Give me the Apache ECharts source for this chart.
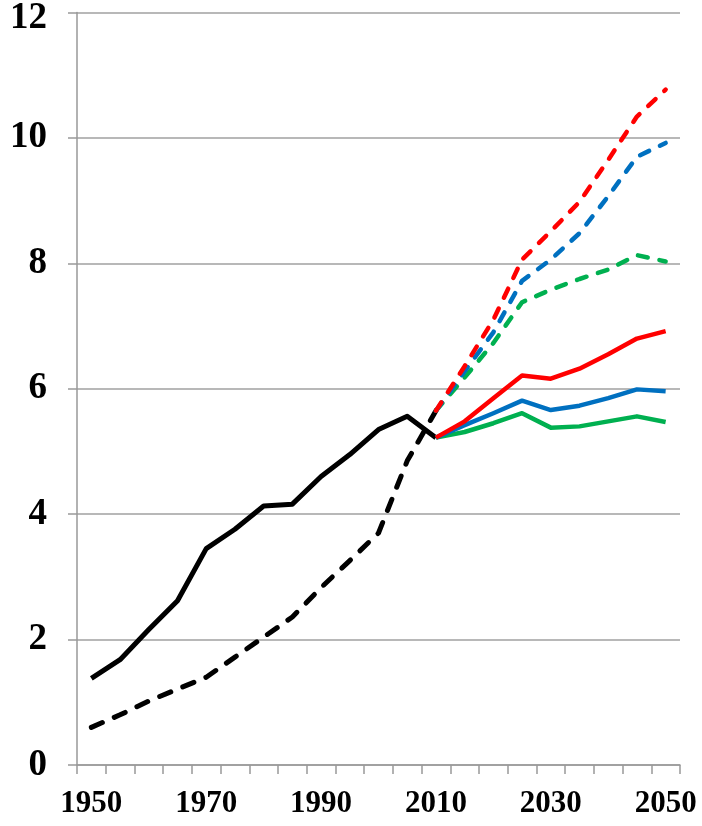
<!DOCTYPE html>
<html>
<head>
<meta charset="utf-8">
<script src="https://cdn.jsdelivr.net/npm/echarts@6/dist/echarts.min.js"></script>
<style>
html,body{margin:0;padding:0;background:#fff;}
#c{width:702px;height:826px;}
</style>
</head>
<body>
<div id="c"></div>
<script>
var years = ['1950','1955','1960','1965','1970','1975','1980','1985','1990','1995','2000','2005','2010','2015','2020','2025','2030','2035','2040','2045','2050'];
var yTicks = [0, 2, 4, 6, 8, 10, 12];

var histSolid  = [1.38, 1.68, 2.16, 2.62, 3.45, 3.76, 4.13, 4.16, 4.60, 4.95, 5.35, 5.56, 5.22];
var histDashed = [0.60, 0.80, 1.02, 1.21, 1.40, 1.72, 2.04, 2.36, 2.83, 3.26, 3.70, 4.85, 5.65];

var redSolid    = [5.22, 5.48, 5.85, 6.21, 6.16, 6.32, 6.55, 6.80, 6.92];
var blueSolid   = [5.22, 5.42, 5.61, 5.81, 5.66, 5.73, 5.85, 5.99, 5.96];
var greenSolid  = [5.22, 5.31, 5.45, 5.61, 5.38, 5.40, 5.48, 5.56, 5.47];
var redDashed   = [5.65, 6.36, 7.10, 8.06, 8.51, 8.98, 9.65, 10.34, 10.77];
var blueDashed  = [5.65, 6.28, 6.90, 7.72, 8.06, 8.48, 9.07, 9.70, 9.92];
var greenDashed = [5.65, 6.18, 6.73, 7.38, 7.58, 7.75, 7.90, 8.13, 8.03];

function pad(arr, startIdx) {
  var out = [];
  for (var i = 0; i < years.length; i++) {
    var j = i - startIdx;
    out.push(j >= 0 && j < arr.length ? arr[j] : null);
  }
  return out;
}

function line(data, color, dashed, width, dash) {
  return {
    type: 'line',
    data: data,
    showSymbol: false,
    symbol: 'none',
    connectNulls: false,
    lineStyle: {
      color: color,
      width: width,
      type: dashed ? dash : 'solid',
      cap: dashed ? 'round' : 'butt',
      join: 'round'
    }
  };
}

var font = '"Liberation Serif", "Times New Roman", serif';
var chart = echarts.init(document.getElementById('c'));
chart.setOption({
  animation: false,
  grid: { left: 77, right: 22, top: 12, bottom: 61, containLabel: false },
  xAxis: {
    type: 'category',
    data: years,
    boundaryGap: true,
    axisLine: { lineStyle: { color: '#999999', width: 1.5 } },
    axisTick: { show: true, interval: 0, length: 9, lineStyle: { color: '#999999', width: 1.5 } },
    axisLabel: {
      interval: 3,
      margin: 23,
      color: '#000',
      fontFamily: font,
      fontWeight: 'bold',
      fontSize: 31
    },
    splitLine: { show: false }
  },
  yAxis: {
    type: 'value',
    min: 0,
    max: 12,
    interval: 2,
    axisLine: { show: true, lineStyle: { color: '#999999', width: 1.5 } },
    axisTick: { show: true, length: 9, lineStyle: { color: '#999999', width: 1.5 } },
    axisLabel: {
      margin: 30,
      color: '#000',
      fontFamily: font,
      fontWeight: 'bold',
      fontSize: 37,
      formatter: function (v) {
        if (yTicks.indexOf(v) < 0) return '';
        return v === 12 ? '{top|' + v + '}' : String(v);
      },
      rich: {
        top: {
          fontFamily: font, fontWeight: 'bold', fontSize: 37, color: '#000',
          padding: [12, 0, 0, 0]
        }
      }
    },
    splitLine: { show: true, lineStyle: { color: '#A0A0A0', width: 1.5 } }
  },
  series: [
    line(pad(histDashed, 0), '#000000', true, 5, [12, 13]),
    line(pad(histSolid, 0), '#000000', false, 5),
    line(pad(greenDashed, 12), '#00B050', true, 4.5, [10, 12]),
    line(pad(blueDashed, 12), '#0070C0', true, 4.5, [10, 12]),
    line(pad(redDashed, 12), '#FF0000', true, 4.5, [10, 12]),
    line(pad(greenSolid, 12), '#00B050', false, 4.5),
    line(pad(blueSolid, 12), '#0070C0', false, 4.5),
    line(pad(redSolid, 12), '#FF0000', false, 4.5)
  ]
});
</script>
</body>
</html>
